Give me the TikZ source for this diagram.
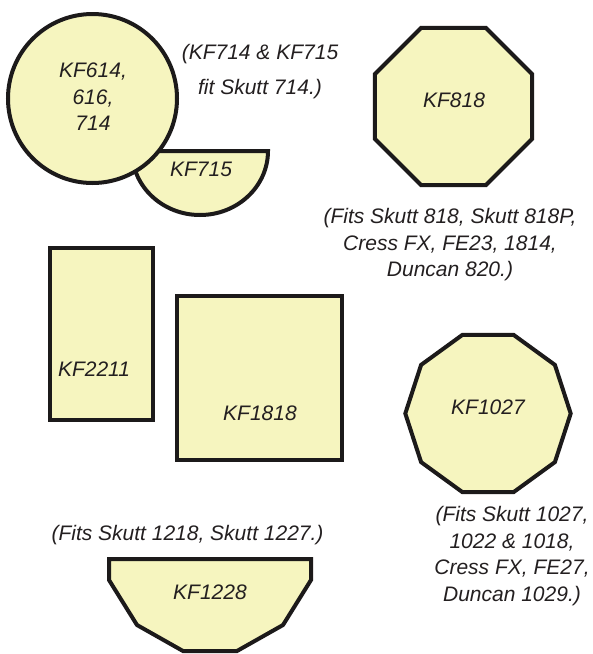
\documentclass[tikz,border=0pt]{standalone}
\usepackage{fontspec}
\setmainfont{Liberation Sans}
\definecolor{kfill}{HTML}{F6F5BF}
\definecolor{kline}{HTML}{1C1A1A}
\definecolor{ktext}{HTML}{231F20}
\begin{document}
\begin{tikzpicture}[x=1pt,y=-1pt,
  shapeb/.style={draw=kline, fill=kfill, line width=4pt, line join=miter},
  lbl/.style={font=\fontsize{21}{26.5}\selectfont\itshape, text=ktext, align=center, inner sep=0pt},
  toplbl/.style={lbl, font=\fontsize{21}{35}\selectfont\itshape}]
\useasboundingbox (0,0) rectangle (593,654);
% half disc KF715
\draw[shapeb] (132,151) arc (180:0:68 and 64) -- cycle;
% circle
\draw[shapeb] (92.5,98.5) circle (84.5);
% octagon KF818
\draw[shapeb] plot[samples at={22.5,67.5,...,337.5}] ({453.5+85*cos(\x)},{106.5+85*sin(\x)}) -- cycle;
% rectangles
\draw[shapeb] (50,248) rectangle (153,420);
\draw[shapeb] (177,296) rectangle (342,460);
% decagon KF1027
\draw[shapeb] plot[samples at={0,36,...,324}] ({488+82.7*cos(\x)},{413.5+82.7*sin(\x)}) -- cycle;
% KF1228
\draw[shapeb] (109,559) -- (311,559) -- (311,580) -- (283,625) -- (237,651) -- (183,651) -- (137,625) -- (109,580) -- cycle;

\node[lbl] (t614) at (93,97) {KF614,\\616,\\714};
\node[lbl] (t715) at (201,169) {KF715};
\node[toplbl] (tnote1) at (260,72) {(KF714 \& KF715\\fit Skutt 714.)};
\node[lbl] (t818) at (454,100) {KF818};
\node[lbl] (tnote2) at (450,245) {(Fits Skutt 818, Skutt 818P,\\Cress FX, FE23, 1814,\\Duncan 820.)};
\node[lbl] (t2211) at (94,369) {KF2211};
\node[lbl] (t1818) at (260,413) {KF1818};
\node[lbl] (t1027) at (488,407) {KF1027};
\node[lbl] (tnote3) at (512,556) {(Fits Skutt 1027,\\1022 \& 1018,\\Cress FX, FE27,\\Duncan 1029.)};
\node[lbl] (tnote4) at (187.5,535) {(Fits Skutt 1218, Skutt 1227.)};
\node[lbl] (t1228) at (210,592) {KF1228};
\end{tikzpicture}
\end{document}
